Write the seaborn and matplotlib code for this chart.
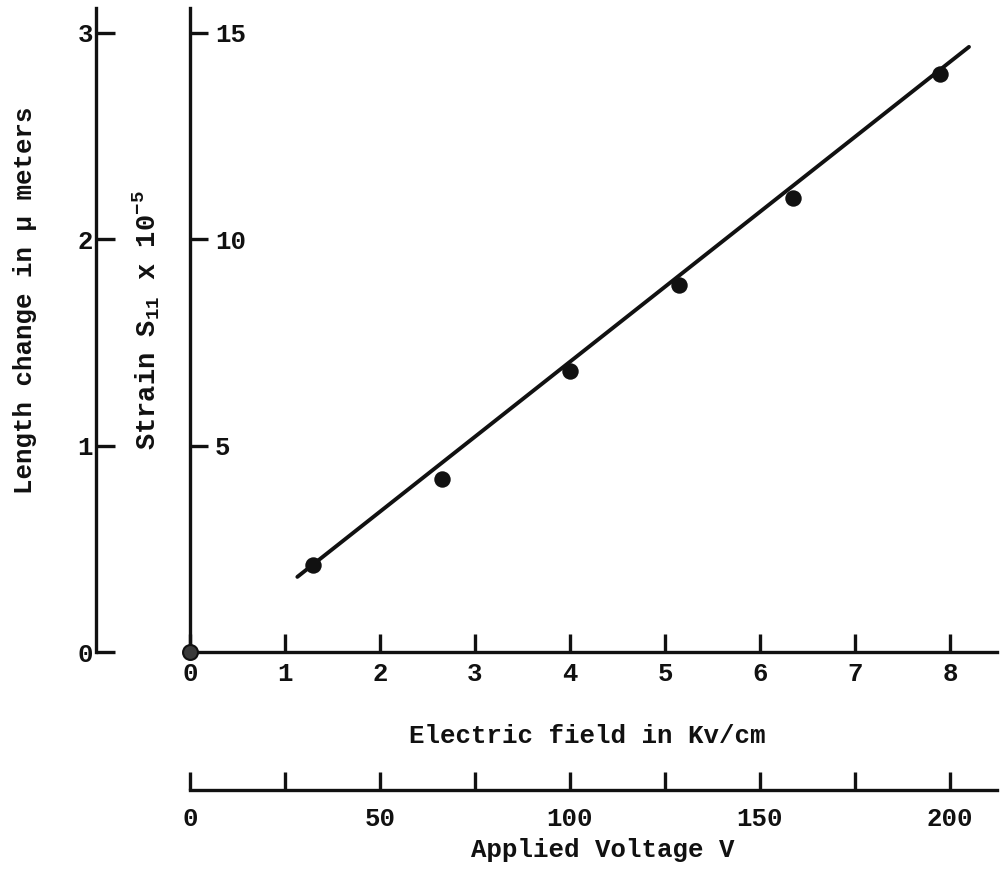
"""
Strain / length change versus electric field (and applied voltage),
redrawn in the style of an old typewritten report figure.
"""
import matplotlib
matplotlib.use("Agg")
import matplotlib.pyplot as plt
import seaborn as sns
import pandas as pd

# Measured points: electric field in kV/cm, strain S11 in units of 1e-5
field_kv_cm = [1.3, 2.65, 4.0, 5.15, 6.35, 7.9]
strain = [2.1, 4.2, 6.8, 8.9, 11.0, 14.0]

# Point at the origin (drawn a bit differently in the original)
origin_field = [0.0]
origin_strain = [0.0]

# End points of the hand drawn straight line
fit_field = [1.13, 8.2]
fit_strain = [1.82, 14.66]

# Axis ticks and labels
field_ticks = [0, 1, 2, 3, 4, 5, 6, 7, 8]
strain_ticks = [5, 10, 15]
length_ticks = [0, 1, 2, 3]
voltage_ticks = [0, 25, 50, 75, 100, 125, 150, 175, 200]
voltage_labels = ["0", "", "50", "", "100", "", "150", "", "200"]

# Axis ranges (1 um length change = 5e-5 strain, 8 kV/cm = 200 V)
FIELD_MAX = 8.495
STRAIN_MAX = 15.6
LENGTH_MAX = STRAIN_MAX / 5
VOLTAGE_MAX = FIELD_MAX * 25

FONT = "Liberation Mono"
FS = 18.5
WEIGHT = "bold"
INK = "#111111"

sns.set_theme(style="white")
plt.rcParams["font.family"] = [FONT, "DejaVu Sans"]
plt.rcParams["font.weight"] = WEIGHT
plt.rcParams["mathtext.fontset"] = "custom"
plt.rcParams["mathtext.rm"] = FONT + ":bold"
plt.rcParams["mathtext.it"] = FONT + ":italic:bold"
plt.rcParams["mathtext.bf"] = FONT + ":bold"
plt.rcParams["mathtext.default"] = "rm"
plt.rcParams["text.color"] = INK


def style_spines(ax, keep):
    """Show only the spines listed in keep."""
    for name, sp in ax.spines.items():
        sp.set_visible(name in keep)
        sp.set_linewidth(2.4)
        sp.set_color(INK)


fig = plt.figure(figsize=(10, 8.69), dpi=100)

# Main axes: strain vs field
ax = fig.add_axes([0.190, 0.2497, 0.807, 0.741])
ax.patch.set_visible(False)
style_spines(ax, ["left", "bottom"])

points = pd.DataFrame({"field": field_kv_cm, "strain": strain})
fit = pd.DataFrame({"field": fit_field, "strain": fit_strain})
origin = pd.DataFrame({"field": origin_field, "strain": origin_strain})

sns.lineplot(data=fit, x="field", y="strain", color=INK, linewidth=2.8,
             solid_capstyle="round", ax=ax)
sns.scatterplot(data=points, x="field", y="strain", color=INK, s=140,
                linewidth=0, zorder=3, clip_on=False, ax=ax)
sns.scatterplot(data=origin, x="field", y="strain", color="#3a3a3a", s=115,
                edgecolor=INK, linewidth=1.5, zorder=3, clip_on=False, ax=ax)

ax.set_xlim(0, FIELD_MAX)
ax.set_ylim(0, STRAIN_MAX)
ax.set_xlabel("")
ax.set_ylabel("")
ax.set_xticks(field_ticks, labels=[str(t) for t in field_ticks], fontsize=FS)
ax.set_yticks(strain_ticks, labels=[str(t) for t in strain_ticks],
              fontsize=FS, ha="left")
ax.tick_params(axis="x", bottom=True, direction="in", length=13, width=2.4,
               color=INK, pad=7, labelcolor=INK)
ax.tick_params(axis="y", left=True, direction="in", length=13, width=2.4,
               color=INK, pad=-18, labelcolor=INK)

# Outer left axis: length change in micrometers
ax_len = fig.add_axes([0.096, 0.2497, 0.001, 0.741])
ax_len.patch.set_visible(False)
style_spines(ax_len, ["left"])
ax_len.set_ylim(0, LENGTH_MAX)
ax_len.set_xticks([])
ax_len.set_yticks(length_ticks, labels=[str(t) for t in length_ticks],
                  fontsize=FS)
ax_len.tick_params(axis="y", left=True, direction="in", length=13.5,
                   width=2.4, color=INK, pad=2, labelcolor=INK)

# Lower axis: applied voltage
ax_v = fig.add_axes([0.190, 0.0909, 0.807, 0.001])
ax_v.patch.set_visible(False)
style_spines(ax_v, ["bottom"])
ax_v.set_xlim(0, VOLTAGE_MAX)
ax_v.set_yticks([])
ax_v.set_xticks(voltage_ticks, labels=voltage_labels, fontsize=FS)
ax_v.tick_params(axis="x", bottom=True, direction="in", length=13,
                 width=2.4, color=INK, pad=12, labelcolor=INK)

# Axis titles
fig.text(0.587, 1 - 736 / 869, "Electric field in Kv/cm", fontsize=FS,
         ha="center", va="center")
fig.text(0.603, 1 - 850 / 869, "Applied Voltage V", fontsize=FS,
         ha="center", va="center")
fig.text(0.025, 1 - 300 / 869, "Length change in \u00b5 meters", fontsize=FS,
         rotation=90, ha="center", va="center")
fig.text(0.146, 1 - 320 / 869, "Strain S$_{11}$ x 10$^{-5}$", fontsize=19.5,
         rotation=90, ha="center", va="center")

fig.savefig("out.png", dpi=100)
